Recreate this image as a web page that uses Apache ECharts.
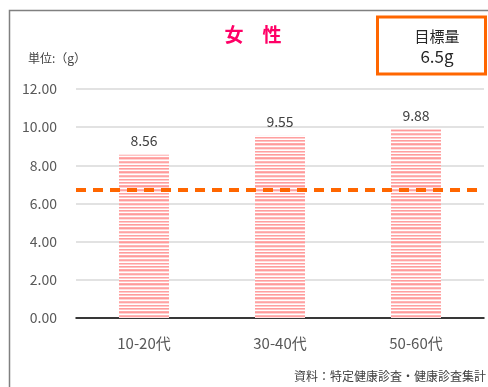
<!DOCTYPE html>
<html>
<head>
<meta charset="utf-8">
<script src="https://cdn.jsdelivr.net/npm/echarts@6/dist/echarts.min.js"></script>
<style>
  html, body { margin: 0; padding: 0; background: #fff; }
  #chart { width: 488px; height: 387px; }
</style>
</head>
<body>
<div id="chart"></div>
<script>
// Salt intake by age group (women), grams per day
const categories = ['10-20代', '30-40代', '50-60代'];
const saltValues = [8.56, 9.55, 9.88];
const yTicks = [0, 2, 4, 6, 8, 10, 12];
const targetLine = 6.7;

const FONT = '"Noto Sans CJK JP", "Noto Sans", sans-serif';

// Horizontal pink stripes used to fill the bars
function stripePattern() {
  const rows = ['#ff9c9c', '#ffc2c2', '#ffffff', '#ffaaaa', '#ff9a9a', '#ffd4d4', '#ffffff', '#ffb5b5', '#ffa3a3', '#ffe0e0', '#ffffff', '#ffa0a0', '#ffcccc', '#ffffff'];
  const c = document.createElement('canvas');
  c.width = 4;
  c.height = rows.length;
  const ctx = c.getContext('2d');
  rows.forEach((col, i) => {
    ctx.fillStyle = col;
    ctx.fillRect(0, i, 4, 1);
  });
  return c;
}

const chart = echarts.init(document.getElementById('chart'), null, { renderer: 'canvas' });

chart.setOption({
  animation: false,
  backgroundColor: '#ffffff',
  grid: { left: 76, right: 4, top: 89, bottom: 69 },
  xAxis: {
    type: 'category',
    data: categories,
    axisLine: { lineStyle: { color: '#000000', width: 1.5 } },
    axisTick: { show: false },
    axisLabel: { color: '#595959', fontSize: 15, fontFamily: FONT, margin: 18 }
  },
  yAxis: {
    type: 'value',
    min: yTicks[0],
    max: yTicks[yTicks.length - 1],
    interval: 2,
    axisLine: { show: false },
    axisTick: { show: false },
    splitLine: { lineStyle: { color: '#d9d9d9', width: 1.5 } },
    axisLabel: {
      color: '#595959', fontSize: 14, fontFamily: FONT, margin: 19,
      formatter: v => v.toFixed(2)
    }
  },
  series: [{
    type: 'bar',
    data: saltValues,
    barWidth: 50,
    itemStyle: { color: { image: stripePattern(), repeat: 'repeat' } },
    label: {
      show: true, position: 'top', distance: 7,
      color: '#404040', fontSize: 14, fontFamily: FONT,
      formatter: p => p.value.toFixed(2)
    },
    markLine: {
      silent: true,
      symbol: 'none',
      label: { show: false },
      lineStyle: { color: '#ff6600', width: 4, type: [10, 7] },
      data: [{ yAxis: targetLine }]
    }
  }],
  graphic: [
    {
      type: 'rect', silent: true,
      shape: { x: 9.5, y: 10.5, width: 600, height: 500 },
      style: { fill: null, stroke: '#808080', lineWidth: 1.5 }
    },
    {
      type: 'text', x: 253, y: 35,
      style: { text: '女\u3000性', fill: '#ff0066', fontSize: 19, fontWeight: 'bold', fontFamily: FONT, align: 'center', verticalAlign: 'middle' }
    },
    {
      type: 'text', left: 28, top: 52,
      style: { text: '単位:（g）', fill: '#404040', fontSize: 12, fontFamily: FONT }
    },
    {
      type: 'rect', silent: true,
      shape: { x: 377.5, y: 17, width: 108, height: 57 },
      style: { fill: '#ffffff', stroke: '#ff6600', lineWidth: 3 }
    },
    {
      type: 'text', x: 437, y: 36,
      style: { text: '目標量', fill: '#262626', fontSize: 15, fontFamily: FONT, align: 'center', verticalAlign: 'middle' }
    },
    {
      type: 'text', x: 437, y: 57,
      style: { text: '6.5g', fill: '#262626', fontSize: 17, fontFamily: FONT, align: 'center', verticalAlign: 'middle' }
    },
    {
      type: 'text', left: 294, top: 370,
      style: { text: '資料：特定健康診査・健康診査集計', fill: '#404040', fontSize: 12, fontFamily: FONT }
    }
  ]
});
</script>
</body>
</html>
